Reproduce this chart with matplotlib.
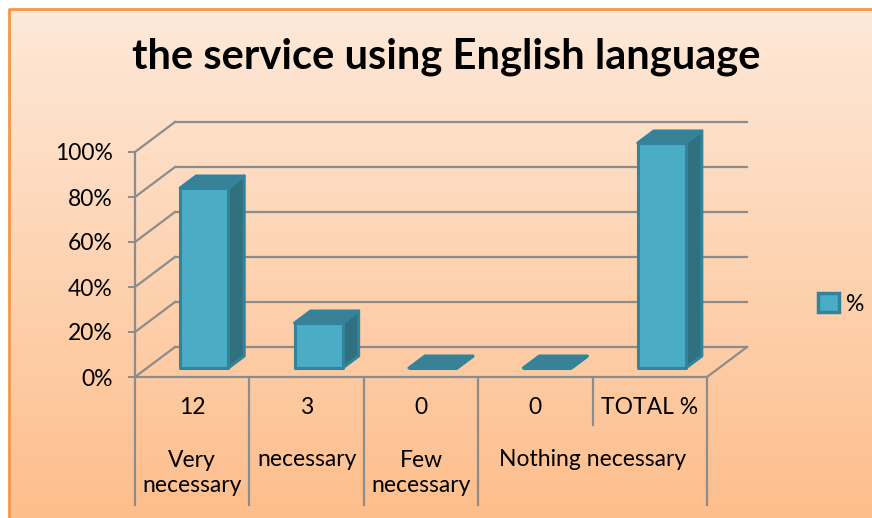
import matplotlib.pyplot as plt
from matplotlib.patches import Polygon, Patch, Rectangle
import numpy as np

plt.rcParams['font.family'] = ['Lato', 'DejaVu Sans']

# data
counts = ['12', '3', '0', '0', 'TOTAL %']
groups = ['Very\nnecessary', 'necessary', 'Few\nnecessary', 'Nothing necessary']
group_span = [1, 1, 1, 2]
values = [80, 20, 0, 0, 100]
yticks = [0, 20, 40, 60, 80, 100]
series_name = '%'

W, H = 872, 518
fig = plt.figure(figsize=(W / 100, H / 100), dpi=100)

# background gradient inside the orange frame
bg = fig.add_axes([9 / W, 0, 1 - 9 / W, 1 - 9 / H], zorder=-10)
grad = np.linspace(0, 1, 256).reshape(-1, 1)
top_c = np.array([254, 233, 217]) / 255
bot_c = np.array([253, 190, 140]) / 255
img = top_c[None, None, :] * (1 - grad[:, :, None]) + bot_c[None, None, :] * grad[:, :, None]
bg.imshow(img, aspect='auto', extent=[0, 1, 0, 1])
bg.set_axis_off()
# orange frame (left and top edges visible)
fig.add_artist(plt.Line2D([8.5 / W, 8.5 / W, 1], [0, 1 - 9 / H, 1 - 9 / H], transform=fig.transFigure,
                          color='#F79646', linewidth=2, zorder=5))

# plot area: front floor 135..707 px, y 0..100 -> 377..152 px
ax = fig.add_axes([135 / W, (H - 377) / H, 572 / W, 225 / H])
n = len(values)
ax.set_xlim(-0.5, n - 0.5)
ax.set_ylim(0, 100)
ax.patch.set_visible(False)
for s in ['top', 'right', 'bottom']:
    ax.spines[s].set_visible(False)
grid_c = '#8C8C8C'
ax.spines['left'].set_color(grid_c)
ax.spines['left'].set_linewidth(1.6)
ax.set_xticks([])
ax.set_yticks(yticks)
ax.set_yticklabels([f'{t}%' for t in yticks], fontsize=16.5)
ax.tick_params(axis='y', length=5, width=1.4, color=grid_c, pad=11)

# depth of the 3d box in data units
DX = 40 / 114.4
DY = 30 / 2.25
x0, x1 = -0.5, n - 0.5

# back wall gridlines and side diagonals
for t in yticks:
    ax.plot([x0, x0 + DX], [t, t + DY], color=grid_c, lw=1.6, clip_on=False, zorder=1)
    ax.plot([x0 + DX, x1 + DX], [t + DY, t + DY], color=grid_c, lw=1.6, clip_on=False, zorder=1)
# floor right edge
ax.plot([x1, x1 + DX], [0, DY], color=grid_c, lw=1.6, clip_on=False, zorder=1)

# 3d bars
bw = 0.42
f0, f1 = 0.3, 0.7
front_c = '#4BACC6'
edge_c = '#31849B'
top_fc = '#3A8196'
side_fc = '#31707F'
for i, v in enumerate(values):
    xl = i - bw / 2 + f0 * DX
    xr = i + bw / 2 + f0 * DX
    yb = f0 * DY
    ddx = (f1 - f0) * DX
    ddy = (f1 - f0) * DY
    side = [(xr, yb), (xr + ddx, yb + ddy), (xr + ddx, yb + ddy + v), (xr, yb + v)]
    top = [(xl, yb + v), (xr, yb + v), (xr + ddx, yb + ddy + v), (xl + ddx, yb + ddy + v)]
    front = [(xl, yb), (xr, yb), (xr, yb + v), (xl, yb + v)]
    for pts, fc in [(side, side_fc), (top, top_fc), (front, front_c)]:
        ax.add_patch(Polygon(pts, closed=True, facecolor=fc, edgecolor=edge_c, lw=2.2,
                             joinstyle='round', clip_on=False, zorder=3))

# data table below the axis
ppy = 2.25
row1 = -(408 - 377) / ppy
row_split = -(425 - 377) / ppy
row2 = -(473 - 377) / ppy
tbl_bot = -(505 - 377) / ppy
ax.plot([x0, x1], [0, 0], color=grid_c, lw=1.6, clip_on=False, zorder=2)
for i, c in enumerate(counts):
    ax.text(i, row1, c, ha='center', va='center', fontsize=16.5)
edges = np.cumsum([0] + group_span) - 0.5
for e in np.arange(-0.5, n):
    if e in edges:
        ax.plot([e, e], [0, tbl_bot], color=grid_c, lw=1.6, clip_on=False)
    else:
        ax.plot([e, e], [0, row_split], color=grid_c, lw=1.6, clip_on=False)
for k, g in enumerate(groups):
    cx = (edges[k] + edges[k + 1]) / 2
    yy = row2 if '\n' in g else -(459 - 377) / ppy
    ax.text(cx, yy, g, ha='center', va='center', fontsize=16.5, linespacing=1.2)

fig.text(446 / W, 1 - 57 / H, 'the service using English language', ha='center', va='center',
         fontsize=30, fontweight='bold')

fig.legend(handles=[Patch(facecolor=front_c, edgecolor=edge_c, linewidth=2.5)], labels=[series_name],
           loc='center left', bbox_to_anchor=(818 / W, 1 - 304 / H), frameon=False, borderpad=0,
           borderaxespad=0, handlelength=0.9, handleheight=0.9, handletextpad=0.3, fontsize=16.5)

fig.savefig('out.png', dpi=100)
